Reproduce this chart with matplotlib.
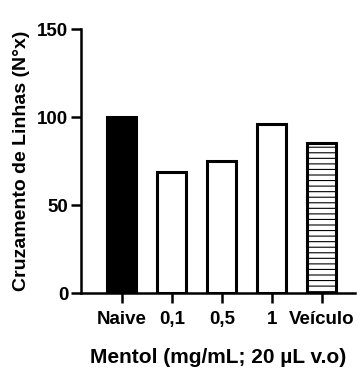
import matplotlib.pyplot as plt

plt.rcParams['font.family'] = ['Liberation Sans', 'DejaVu Sans']
plt.rcParams['font.weight'] = 'bold'
plt.rcParams['hatch.linewidth'] = 0.8
plt.rcParams['hatch.color'] = '#555555'

groups = ["Naive", "0,1", "0,5", "1", "Veículo"]
crossings = [100, 69, 75, 96, 85]
fills = ["black", "white", "white", "white", "white"]
hatches = ["", "", "", "", "---"]


def main():
    fig = plt.figure(figsize=(3.6, 3.72), dpi=100)
    ax = fig.add_axes([0.225, 0.212, 0.761, 0.71])

    x = range(len(groups))
    bars = ax.bar(x, crossings, width=0.58, color=fills,
                  edgecolor="black", linewidth=2.2)
    for bar, h in zip(bars, hatches):
        bar.set_hatch(h)

    ax.set_ylim(0, 150)
    ax.set_xlim(-0.82, 4.66)
    ax.set_yticks([0, 50, 100, 150])
    ax.set_xticks(list(x))
    ax.set_xticklabels(groups)

    for side in ("top", "right"):
        ax.spines[side].set_visible(False)
    for side in ("left", "bottom"):
        ax.spines[side].set_linewidth(1.8)
    ax.tick_params(width=1.8, length=7, labelsize=13.5)
    ax.tick_params(axis="x", pad=6)
    ax.tick_params(axis="y", pad=2)

    ax.set_ylabel("Cruzamento de Linhas (N°x)", fontsize=14,
                  fontweight="bold", labelpad=5)
    ax.set_xlabel("Mentol (mg/mL; 20 µL v.o)", fontsize=15,
                  fontweight="bold", labelpad=14)

    fig.savefig("out.png", dpi=100)


if __name__ == "__main__":
    main()
